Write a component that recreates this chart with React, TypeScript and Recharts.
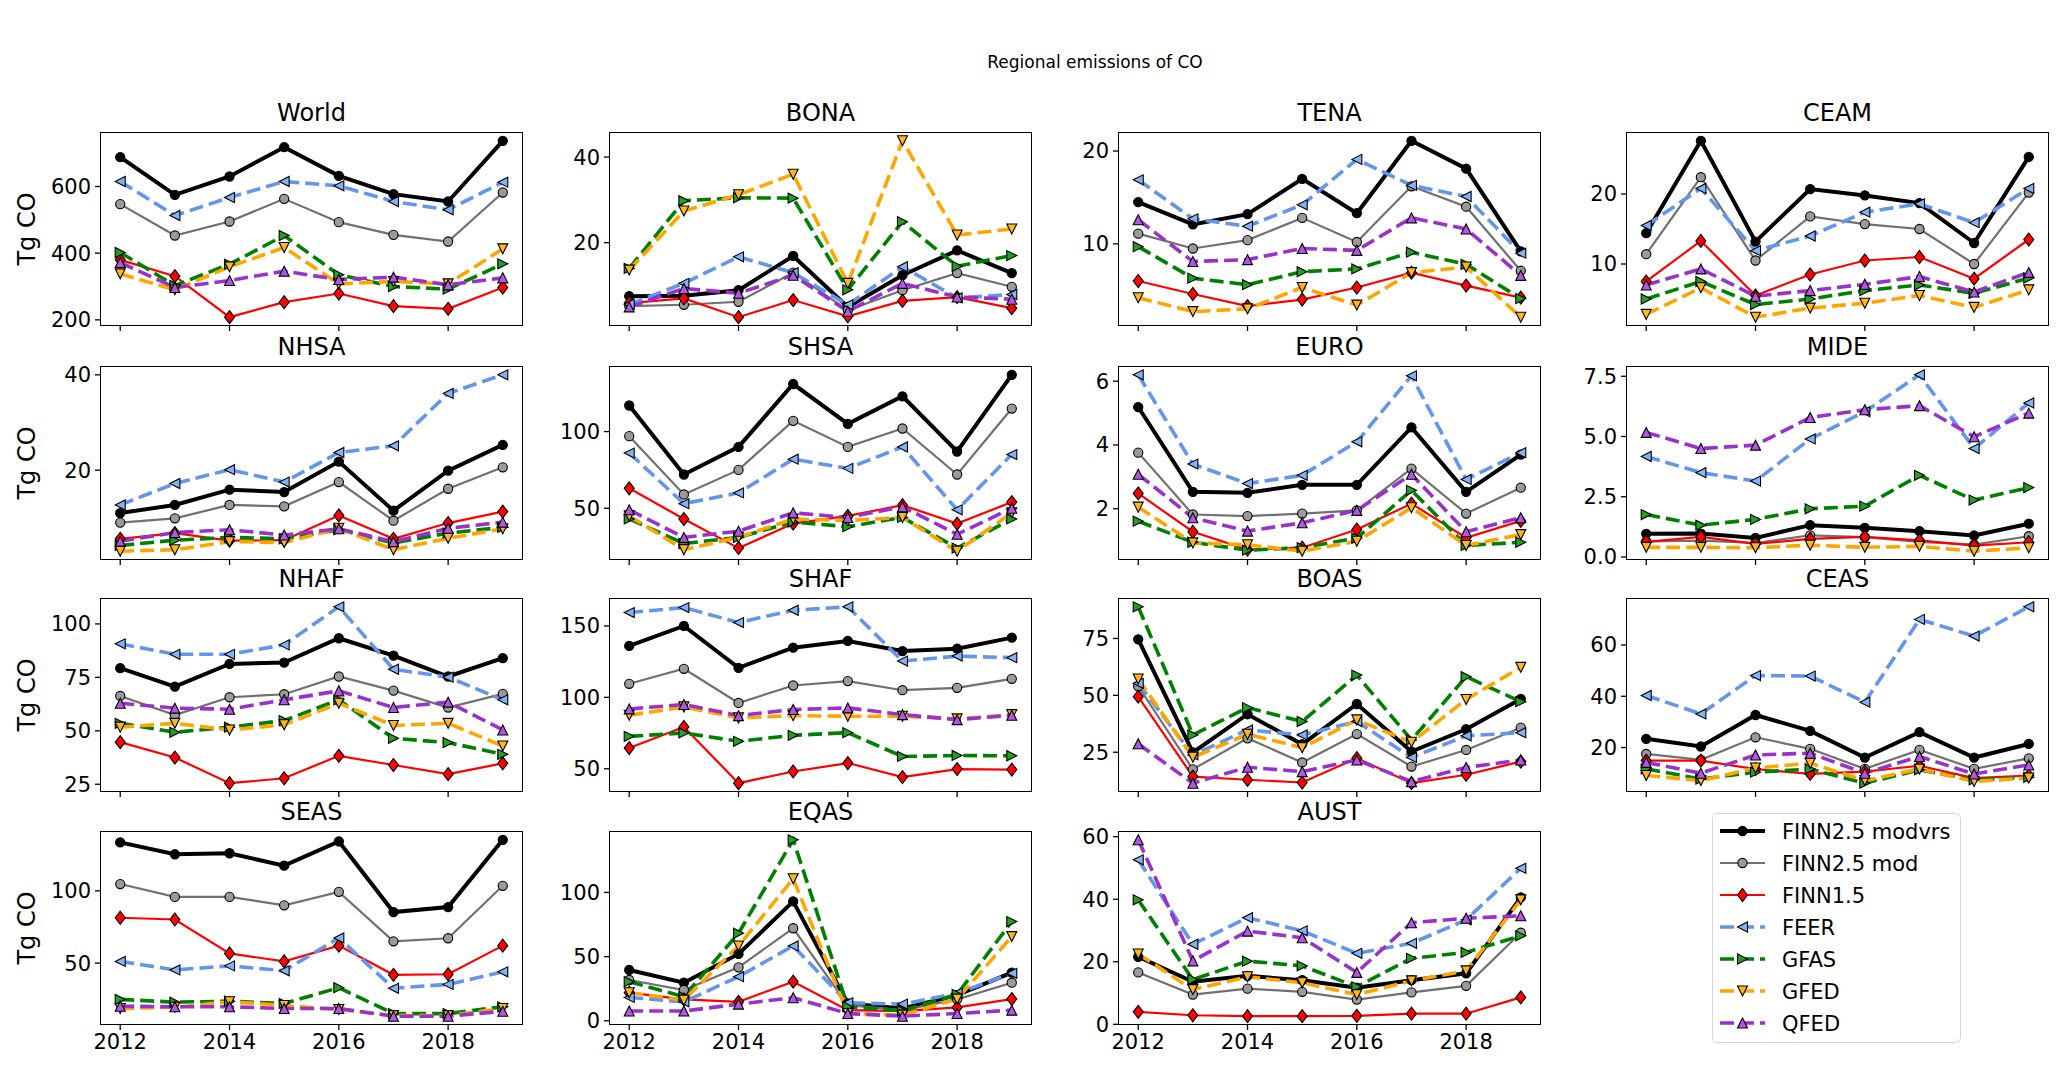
import { LineChart, Line, XAxis, YAxis } from "recharts";

// years on the x axis
const YEARS = [2012, 2013, 2014, 2015, 2016, 2017, 2018, 2019];
const X_TICKS = [2012, 2014, 2016, 2018];

const SERIES_NAMES = [
  "FINN2.5 modvrs",
  "FINN2.5 mod",
  "FINN1.5",
  "FEER",
  "GFAS",
  "GFED",
  "QFED",
];

// one row per series, in SERIES_NAMES order (Tg CO)
const WORLD = [
  [688, 575, 630, 718, 632, 577, 555, 737],
  [547, 453, 495, 563, 493, 455, 435, 582],
  [380, 331, 208, 253, 279, 241, 233, 297],
  [615, 513, 567, 615, 602, 555, 530, 613],
  [402, 303, 367, 453, 335, 300, 292, 368],
  [338, 290, 359, 417, 308, 315, 308, 413],
  [372, 297, 318, 346, 321, 328, 305, 326],
];
const BONA = [
  [7.5, 7.6, 8.9, 16.9, 5.0, 12.4, 18.2, 12.9],
  [5.2, 5.5, 6.2, 13.0, 4.2, 8.9, 12.9, 9.7],
  [5.9, 7.0, 2.6, 6.6, 2.8, 6.4, 7.3, 4.7],
  [5.6, 10.5, 16.7, 13.0, 5.5, 14.4, 7.1, 7.9],
  [14.0, 29.8, 30.5, 30.4, 9.0, 24.9, 14.5, 17.0],
  [13.6, 27.4, 31.2, 36.0, 10.5, 43.8, 21.8, 23.2],
  [5.0, 9.3, 8.2, 12.4, 4.0, 10.5, 7.3, 6.8],
];
const TENA = [
  [14.5, 12.1, 13.2, 17.0, 13.3, 21.1, 18.1, 9.2],
  [11.1, 9.5, 10.4, 12.8, 10.2, 16.2, 14.0, 7.1],
  [6.0, 4.6, 3.3, 4.0, 5.3, 6.9, 5.5, 4.2],
  [16.9, 12.7, 11.9, 14.2, 19.1, 16.3, 15.1, 9.0],
  [9.7, 6.3, 5.6, 7.0, 7.3, 9.1, 7.8, 4.1],
  [4.2, 2.7, 3.0, 5.3, 3.4, 6.9, 7.5, 2.1],
  [12.6, 8.1, 8.3, 9.5, 9.3, 12.8, 11.6, 6.6],
];
const CEAM = [
  [14.4, 27.6, 13.2, 20.7, 19.8, 18.7, 13.0, 25.3],
  [11.4, 22.4, 10.5, 16.8, 15.7, 15.0, 10.0, 20.2],
  [7.5, 13.3, 5.5, 8.5, 10.5, 11.0, 7.9, 13.5],
  [15.5, 20.8, 11.9, 14.0, 17.4, 18.6, 15.9, 20.8],
  [5.0, 7.5, 4.2, 5.0, 6.2, 7.0, 5.8, 8.0],
  [2.8, 6.6, 2.4, 3.7, 4.4, 5.5, 3.8, 6.3],
  [7.0, 9.3, 5.4, 6.2, 7.1, 8.2, 6.0, 8.8],
];
const NHSA = [
  [11.0, 12.7, 15.9, 15.4, 21.8, 11.5, 19.9, 25.3],
  [9.0, 9.9, 12.7, 12.4, 17.5, 9.4, 16.1, 20.6],
  [5.6, 6.8, 5.2, 5.3, 10.5, 5.6, 8.9, 11.3],
  [12.7, 17.2, 20.1, 17.5, 23.7, 25.1, 36.1, 40.0],
  [4.2, 5.3, 5.9, 5.6, 7.5, 4.7, 6.8, 8.0],
  [3.0, 3.3, 5.0, 4.8, 7.8, 3.3, 5.7, 7.7],
  [5.1, 6.9, 7.5, 6.4, 7.7, 5.0, 7.8, 9.1],
];
const SHSA = [
  [117, 72, 90, 131, 105, 123, 87, 137],
  [97, 59, 75, 107, 90, 102, 72, 115],
  [63, 43, 24, 40, 45, 52, 40, 54],
  [86, 53, 60, 82, 76, 90, 49, 85],
  [43, 27, 31, 41, 38, 44, 24, 43],
  [45, 23, 31, 43, 42, 44, 22, 47],
  [49, 31, 35, 47, 44, 51, 33, 50],
];
const EURO = [
  [5.19, 2.53, 2.5, 2.75, 2.75, 4.55, 2.53, 3.7],
  [3.76, 1.82, 1.77, 1.85, 1.95, 3.26, 1.85, 2.66],
  [2.48, 1.28, 0.72, 0.78, 1.35, 2.16, 1.09, 1.62],
  [6.2, 3.4, 2.79, 3.05, 4.1, 6.17, 2.92, 3.76],
  [1.61, 0.95, 0.7, 0.78, 1.08, 2.58, 0.85, 0.95],
  [2.05, 0.93, 0.87, 0.67, 0.98, 2.03, 0.85, 1.19],
  [3.08, 1.72, 1.3, 1.56, 1.95, 3.08, 1.28, 1.72],
];
const MIDE = [
  [0.96, 0.97, 0.79, 1.32, 1.21, 1.07, 0.89, 1.38],
  [0.65, 0.68, 0.58, 0.9, 0.82, 0.63, 0.51, 0.86],
  [0.63, 0.83, 0.54, 0.75, 0.83, 0.69, 0.47, 0.61],
  [4.17, 3.5, 3.15, 4.9, 6.03, 7.56, 4.5, 6.39],
  [1.76, 1.32, 1.56, 2.0, 2.11, 3.39, 2.36, 2.88],
  [0.4, 0.4, 0.38, 0.49, 0.4, 0.44, 0.24, 0.38],
  [5.17, 4.5, 4.64, 5.79, 6.11, 6.28, 4.99, 5.97],
];
const NHAF = [
  [79.3, 70.7, 81.3, 81.9, 93.3, 85.2, 75.4, 84.0],
  [66.3, 57.4, 65.7, 67.1, 75.4, 68.8, 60.9, 67.3],
  [44.7, 37.5, 25.5, 27.8, 38.3, 34.0, 29.7, 34.8],
  [90.7, 85.8, 85.8, 90.2, 108.0, 78.8, 75.1, 64.5],
  [53.5, 49.3, 51.7, 54.8, 64.5, 46.5, 44.5, 39.0],
  [51.7, 53.5, 50.4, 52.8, 62.9, 52.5, 53.5, 42.9],
  [62.9, 60.6, 60.1, 64.5, 68.7, 60.9, 63.4, 50.4],
];
const SHAF = [
  [136, 150, 120.7, 134.8, 139.5, 132.4, 134.1, 141.8],
  [109.5, 120, 96.1, 108.3, 111.4, 105, 106.7, 113],
  [64.5, 79.3, 39.9, 48.1, 54, 44.2, 49.8, 49.4],
  [159.4, 162.9, 152.4, 161, 163.4, 125.4, 128.9, 127.8],
  [72.7, 75.1, 69.2, 73.4, 75.3, 58.6, 59.3, 59.1],
  [87.5, 93.3, 85.6, 87.2, 86.8, 86.8, 84.9, 87.9],
  [91.9, 95, 87.2, 91.5, 92.6, 87.9, 84.4, 87.5],
];
const BOAS = [
  [74.6, 24.9, 41.7, 28.5, 46.2, 25.3, 35.1, 48.4],
  [54, 17.5, 31.1, 20.5, 33.0, 18.7, 26.0, 35.8],
  [49.4, 14.3, 12.9, 11.7, 22.4, 11.4, 15.1, 20.9],
  [55.3, 23.8, 34.8, 32.6, 38.5, 22.7, 32.2, 33.6],
  [88.9, 32.6, 44.6, 38.5, 58.9, 30.4, 58.2, 47.2],
  [57.2, 22.8, 32.9, 27.0, 39.2, 29.4, 48.2, 62.3],
  [28.7, 11.4, 18.4, 16.5, 21.6, 12.1, 18.3, 21.6],
];
const CEAS = [
  [23.4, 20.4, 32.7, 26.5, 16.1, 26.0, 16.1, 21.4],
  [17.5, 15.2, 24.0, 19.5, 11.7, 19.1, 11.7, 15.8],
  [14.9, 14.9, 11.6, 9.7, 10.6, 12.9, 8.1, 9.1],
  [40.3, 33.1, 48.1, 47.9, 37.7, 70.0, 63.5, 74.9],
  [11.7, 7.7, 10.4, 11.6, 6.1, 11.3, 7.4, 8.4],
  [9.1, 7.1, 12.0, 13.9, 7.1, 11.6, 6.8, 8.1],
  [14.2, 10.0, 17.1, 17.8, 10.0, 16.5, 9.7, 13.2],
];
const SEAS = [
  [133.5, 125.3, 126, 117.4, 134.2, 85.3, 88.8, 135.3],
  [104.7, 95.8, 95.8, 90, 99.3, 65.1, 67.2, 103.5],
  [81.4, 80.2, 56.7, 51.2, 62.1, 41.9, 42.3, 62.1],
  [51.2, 45.3, 48.1, 44.7, 67.4, 32.6, 35.3, 44],
  [24.9, 23, 23.7, 22.1, 33, 15.1, 15.1, 19.8],
  [18.6, 19.5, 23.3, 20.7, 17.9, 13.7, 13.7, 18.6],
  [20.2, 19.8, 19.8, 18.6, 18.6, 13.3, 13.3, 16.7],
];
const EQAS = [
  [39.6, 29.7, 52.1, 93, 13.5, 9.6, 20, 37.5],
  [31.8, 24, 41.7, 72.1, 12.2, 8.3, 16.7, 29.7],
  [21.9, 16.7, 14.8, 30.5, 8.3, 7.6, 10.4, 16.9],
  [18.2, 14.8, 34.4, 58.3, 14, 13, 21.4, 37],
  [30.5, 18.8, 68.2, 141, 11, 7.8, 20.6, 77.3],
  [21.9, 16.1, 58.3, 110.7, 5.7, 4.4, 16.9, 65.6],
  [7.6, 7.6, 13, 18, 5.7, 3.6, 5.7, 8.3],
];
const AUST = [
  [21.6, 13.6, 15.5, 14.1, 11.7, 14.1, 16.3, 40.6],
  [16.6, 9.5, 11.4, 10.4, 7.9, 10.2, 12.3, 29.3],
  [4.0, 2.9, 2.6, 2.6, 2.7, 3.4, 3.4, 8.6],
  [52.6, 25.6, 34.1, 29.9, 22.7, 25.9, 33.4, 49.9],
  [39.8, 14.3, 20.2, 18.7, 12, 21.1, 23, 28.3],
  [22.5, 11.1, 15.2, 13.3, 9.5, 13.9, 17.1, 39.8],
  [59, 20.3, 29.8, 27.7, 16.6, 32.5, 33.9, 34.7],
];

const REGION_NAMES = [
  "World", "BONA", "TENA", "CEAM",
  "NHSA", "SHSA", "EURO", "MIDE",
  "NHAF", "SHAF", "BOAS", "CEAS",
  "SEAS", "EQAS", "AUST",
];
const REGION_VALUES = [
  WORLD, BONA, TENA, CEAM,
  NHSA, SHSA, EURO, MIDE,
  NHAF, SHAF, BOAS, CEAS,
  SEAS, EQAS, AUST,
];
const Y_TICKS = [
  [200, 400, 600], [20, 40], [10, 20], [10, 20],
  [20, 40], [50, 100], [2, 4, 6], [0, 2.5, 5, 7.5],
  [25, 50, 75, 100], [50, 100, 150], [25, 50, 75], [20, 40, 60],
  [50, 100], [0, 50, 100], [0, 20, 40, 60],
];

// looks
const STYLES = [
  { stroke: "#000000", width: 4, dash: undefined, marker: "o", fill: "#000000" },
  { stroke: "#707070", width: 2.2, dash: undefined, marker: "o", fill: "#9a9a9a" },
  { stroke: "#ff0000", width: 2.2, dash: undefined, marker: "D", fill: "#ff0000" },
  { stroke: "#6495ed", width: 3.6, dash: "14 6", marker: "<", fill: "#82b4f5" },
  { stroke: "#008000", width: 3.6, dash: "14 6", marker: ">", fill: "#22a022" },
  { stroke: "#ffa500", width: 3.6, dash: "14 6", marker: "v", fill: "#ffb81c" },
  { stroke: "#9932cc", width: 3.6, dash: "14 6", marker: "^", fill: "#b455e6" },
];

const COL_LEFT = [100, 609, 1118, 1626];
const ROW_TOP = [132, 366, 598, 831];
const AX_W = 423;
const AX_H = 194;
const YW = 100;
const XH = 40;
const PAD_T = 16;
const FONT = "'DejaVu Sans', sans-serif";

function Marker({ cx, cy, kind, fill }: { cx: number; cy: number; kind: string; fill: string }) {
  if (cx == null || cy == null) return null;
  const r = 5;
  const sw = 1.1;
  if (kind === "o") {
    return <circle cx={cx} cy={cy} r={4.6} fill={fill} stroke="#000" strokeWidth={sw} />;
  }
  let pts = "";
  if (kind === "D") pts = `${cx},${cy - 6.5} ${cx + 5},${cy} ${cx},${cy + 6.5} ${cx - 5},${cy}`;
  if (kind === "^") pts = `${cx},${cy - r} ${cx - r},${cy + r} ${cx + r},${cy + r}`;
  if (kind === "v") pts = `${cx},${cy + r} ${cx - r},${cy - r} ${cx + r},${cy - r}`;
  if (kind === "<") pts = `${cx - r},${cy} ${cx + r},${cy - r} ${cx + r},${cy + r}`;
  if (kind === ">") pts = `${cx + r},${cy} ${cx - r},${cy - r} ${cx - r},${cy + r}`;
  return <polygon points={pts} fill={fill} stroke="#000" strokeWidth={sw} strokeLinejoin="miter" />;
}

function Panel({ idx }: { idx: number }) {
  const name = REGION_NAMES[idx];
  const values = REGION_VALUES[idx];
  const ticks = Y_TICKS[idx];
  const col = idx % 4;
  const row = Math.floor(idx / 4);
  const left = COL_LEFT[col];
  const top = ROW_TOP[row];
  const showX = row === 3;

  const data = YEARS.map((year, i) => {
    const rec: Record<string, number> = { year };
    values.forEach((s, k) => {
      rec["s" + k] = s[i];
    });
    return rec;
  });
  const all = values.flat();
  const lo = Math.min(...all);
  const hi = Math.max(...all);
  const pad = (hi - lo) * 0.05;
  const fmtY = (v: number) => (name === "MIDE" ? v.toFixed(1) : String(v));

  return (
    <>
      <div
        style={{
          position: "absolute",
          left,
          top: top - 31,
          width: AX_W,
          textAlign: "center",
          fontSize: 24,
          lineHeight: "24px",
        }}
      >
        {name}
      </div>
      <div style={{ position: "absolute", left: left - YW, top: top - PAD_T }}>
        <LineChart
          width={YW + AX_W}
          height={PAD_T + AX_H + XH}
          data={data}
          margin={{ top: PAD_T, right: 0, bottom: 0, left: 0 }}
        >
          <XAxis
            type="number"
            dataKey="year"
            domain={[2011.63, 2019.37]}
            ticks={X_TICKS}
            interval={0}
            allowDataOverflow
            axisLine={false}
            tickLine={{ stroke: "#000", strokeWidth: 1.3 }}
            tickSize={5}
            tickMargin={4}
            height={XH}
            tick={{ fill: "#000", fontSize: 21 }}
            tickFormatter={(v: number) => (showX ? String(v) : "")}
          />
          <YAxis
            type="number"
            domain={[lo - pad, hi + pad]}
            ticks={ticks}
            interval={0}
            allowDataOverflow
            axisLine={false}
            tickLine={{ stroke: "#000", strokeWidth: 1.3 }}
            tickSize={5}
            tickMargin={4}
            width={YW}
            tick={{ fill: "#000", fontSize: 21 }}
            tickFormatter={fmtY}
          />
          {STYLES.map((st, k) => (
            <Line
              key={k}
              type="linear"
              dataKey={"s" + k}
              name={SERIES_NAMES[k]}
              stroke={st.stroke}
              strokeWidth={st.width}
              strokeDasharray={st.dash}
              isAnimationActive={false}
              activeDot={false}
              dot={(p: any) => (
                <Marker key={`d${k}-${p.index}`} cx={p.cx} cy={p.cy} kind={st.marker} fill={st.fill} />
              )}
            />
          ))}
        </LineChart>
      </div>
      <div
        style={{
          position: "absolute",
          left,
          top,
          width: AX_W,
          height: AX_H,
          border: "1.5px solid #000",
          boxSizing: "border-box",
          pointerEvents: "none",
        }}
      />
      {col === 0 && (
        <div
          style={{
            position: "absolute",
            left: 27 - 100,
            top: top + AX_H / 2 - 13,
            width: 200,
            height: 26,
            lineHeight: "26px",
            textAlign: "center",
            fontSize: 24,
            transform: "rotate(-90deg)",
          }}
        >
          Tg CO
        </div>
      )}
    </>
  );
}

function FigureLegend() {
  const w = 249;
  const h = 230;
  return (
    <svg
      style={{ position: "absolute", left: 1712, top: 813 }}
      width={w}
      height={h}
    >
      <rect x={0.5} y={0.5} width={w - 1} height={h - 1} rx={5} fill="#fff" stroke="#d6d6d6" />
      {STYLES.map((st, k) => {
        const y = 18 + k * 32;
        return (
          <g key={k}>
            <line
              x1={8}
              x2={53}
              y1={y}
              y2={y}
              stroke={st.stroke}
              strokeWidth={st.width}
              strokeDasharray={st.dash ? "14 6" : undefined}
            />
            <Marker cx={30.5} cy={y} kind={st.marker} fill={st.fill} />
            <text x={70} y={y} dy="0.36em" fontSize={21} fill="#000">
              {SERIES_NAMES[k]}
            </text>
          </g>
        );
      })}
    </svg>
  );
}

export default function App() {
  return (
    <div
      style={{
        position: "absolute",
        left: 0,
        top: 0,
        width: 2067,
        height: 1071,
        background: "#fff",
        fontFamily: FONT,
        color: "#000",
        overflow: "hidden",
      }}
    >
      <div
        style={{
          position: "absolute",
          left: 1095 - 200,
          top: 52,
          width: 400,
          textAlign: "center",
          fontSize: 17,
          lineHeight: "20px",
        }}
      >
        Regional emissions of CO
      </div>
      {REGION_NAMES.map((_, i) => (
        <Panel key={i} idx={i} />
      ))}
      <FigureLegend />
    </div>
  );
}
